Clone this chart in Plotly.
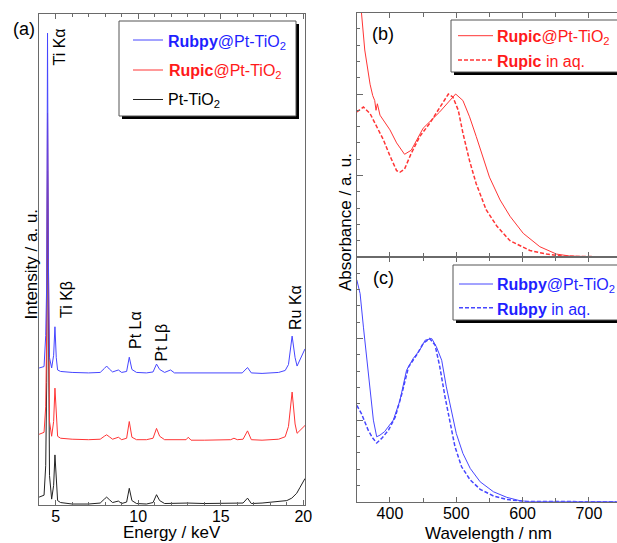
import plotly.graph_objects as go

W, H = 617, 543

# ---------------- data: panel (a) EDX spectra (offset as displayed) ----------------
energy_blue = [4.00, 4.30, 4.40, 4.46, 4.51, 4.56, 4.63, 4.76, 4.88, 4.96, 5.04, 5.12, 5.30, 6.00, 7.00,
               7.70, 7.95, 8.09, 8.25, 8.45, 8.80, 9.00, 9.30, 9.46, 9.62, 9.90, 10.50, 10.90, 11.11,
               11.30, 11.60, 11.96, 12.20, 13.00, 14.00, 15.00, 16.30, 16.62, 16.85, 17.50, 18.50,
               18.90, 19.10, 19.32, 19.50, 19.62, 19.80, 20.00, 20.10]
intensity_blue = [27.9, 28.2, 34.5, 45.0, 96.1, 50.0, 30.0, 27.9, 30.5, 36.3, 30.0, 27.5, 27.2, 27.0, 26.9,
                  27.0, 27.8, 28.3, 27.7, 27.1, 27.5, 27.0, 27.2, 30.1, 27.6, 27.0, 26.9, 27.1, 28.7,
                  27.6, 27.0, 27.5, 26.9, 26.9, 26.8, 26.8, 26.9, 28.0, 26.9, 26.8, 27.0,
                  27.4, 28.6, 34.4, 30.0, 28.3, 29.6, 31.4, 31.8]

energy_red = [4.00, 4.30, 4.40, 4.46, 4.51, 4.56, 4.63, 4.76, 4.88, 4.96, 5.04, 5.12, 5.30, 6.00, 7.00,
              7.70, 7.95, 8.09, 8.25, 8.45, 8.80, 9.00, 9.30, 9.46, 9.62, 9.90, 10.50, 10.90, 11.11,
              11.30, 11.60, 12.90, 13.03, 13.20, 14.00, 15.60, 15.80, 16.00, 16.35, 16.62, 16.85,
              17.50, 18.50, 18.90, 19.10, 19.32, 19.50, 19.62, 19.80, 20.00, 20.10]
intensity_red = [14.4, 14.8, 20.0, 35.0, 79.8, 40.0, 17.0, 14.0, 17.0, 23.8, 17.0, 14.0, 13.6, 13.4, 13.3,
                 13.4, 14.0, 14.3, 13.9, 13.4, 13.8, 13.3, 13.6, 17.0, 13.8, 13.3, 13.3, 13.6, 15.6,
                 14.0, 13.3, 13.3, 13.8, 13.2, 13.2, 13.3, 13.6, 13.3, 13.4, 15.1, 13.3,
                 13.2, 13.4, 13.9, 16.0, 23.0, 16.5, 14.6, 15.2, 15.9, 16.2]

energy_black = [4.00, 4.30, 4.40, 4.46, 4.51, 4.56, 4.63, 4.76, 4.88, 4.96, 5.04, 5.12, 5.30, 6.00, 7.00,
                7.70, 7.95, 8.09, 8.25, 8.45, 8.80, 9.00, 9.30, 9.46, 9.62, 9.90, 10.50, 10.90, 11.11,
                11.30, 11.60, 13.00, 14.00, 16.35, 16.62, 16.85, 17.50, 18.50, 19.00, 19.30, 19.60,
                19.80, 20.00, 20.10]
intensity_black = [1.6, 2.0, 8.0, 25.0, 68.0, 30.0, 6.0, 1.2, 4.0, 10.2, 4.0, 0.9, 0.5, 0.2, 0.2,
                   0.4, 1.2, 1.6, 1.1, 0.5, 0.8, 0.3, 0.6, 3.4, 0.9, 0.3, 0.2, 0.5, 2.1,
                   0.9, 0.3, 0.4, 0.3, 0.4, 1.4, 0.3, 0.4, 0.8, 0.9, 1.4, 2.4,
                   3.6, 4.9, 5.4]

# ---------------- data: panel (b) Rupic absorbance ----------------
wl_rupic_tio2 = [350, 355, 357, 362, 370, 374, 377, 379, 381, 385, 400, 410, 422, 432, 450, 475, 490,
                 499, 510, 520, 530, 540, 550, 566, 581, 601, 626, 651, 671, 700, 742]
abs_rupic_tio2 = [1.95, 1.62, 1.50, 1.27, 1.06, 0.99, 0.96, 0.90, 0.94, 0.87, 0.78, 0.70, 0.63, 0.655,
                  0.79, 0.89, 0.96, 1.00, 0.96, 0.86, 0.74, 0.61, 0.49, 0.35, 0.25, 0.145, 0.063,
                  0.018, 0.006, 0.002, 0.0]

wl_rupic_aq = [350, 360, 370, 380, 390, 400, 410, 415, 422, 432, 445, 460, 475, 488, 495, 503, 510,
               520, 530, 545, 561, 581, 611, 636, 661, 700, 742]
abs_rupic_aq = [0.89, 0.92, 0.88, 0.80, 0.72, 0.62, 0.53, 0.52, 0.54, 0.635, 0.74, 0.82, 0.92, 1.00,
                0.98, 0.90, 0.76, 0.59, 0.45, 0.29, 0.19, 0.10, 0.04, 0.018, 0.005, 0.002, 0.0]

# ---------------- data: panel (c) Rubpy absorbance ----------------
wl_rubpy_tio2 = [350, 355, 360, 365, 370, 375, 380, 385, 392, 405, 415, 425, 435, 445, 453, 463, 470,
                 478, 485, 493, 500, 510, 521, 536, 556, 576, 596, 611, 700, 742]
abs_rubpy_tio2 = [1.36, 1.275, 1.07, 0.867, 0.663, 0.50, 0.398, 0.408, 0.43, 0.50, 0.62, 0.806, 0.878,
                  0.93, 0.99, 1.00, 0.95, 0.867, 0.704, 0.561, 0.418, 0.296, 0.204, 0.122, 0.061,
                  0.027, 0.006, 0.0, 0.0, 0.0]

wl_rubpy_aq = [350, 357, 362, 367, 374, 380, 388, 398, 408, 418, 428, 440, 450, 460, 468, 475, 483,
               491, 498, 508, 521, 536, 556, 576, 601, 700, 742]
abs_rubpy_aq = [0.59, 0.54, 0.49, 0.44, 0.39, 0.36, 0.39, 0.44, 0.52, 0.663, 0.826, 0.898, 0.97, 1.00,
                0.96, 0.83, 0.643, 0.48, 0.337, 0.214, 0.133, 0.076, 0.035, 0.014, 0.002, 0.0, 0.0]

# ---------------- styling ----------------
FONT = "Liberation Sans, Arial, sans-serif"
BLUE_LINE = "#4646ff"
BLUE_TEXT = "#1f1fff"
RED_LINE = "#ff3535"
RED_TEXT = "#ff1a1a"
BLACK_LINE = "#222222"
AXIS_COL = "#6a6a6a"


def px(x):
    return x / W


def py(y):
    return 1 - y / H


fig = go.Figure()

fig.add_trace(go.Scatter(x=energy_black, y=intensity_black, mode="lines",
                         line=dict(color=BLACK_LINE, width=1), xaxis="x", yaxis="y", showlegend=False))
fig.add_trace(go.Scatter(x=energy_red, y=intensity_red, mode="lines",
                         line=dict(color=RED_LINE, width=1), xaxis="x", yaxis="y", showlegend=False))
fig.add_trace(go.Scatter(x=energy_blue, y=intensity_blue, mode="lines",
                         line=dict(color=BLUE_LINE, width=1), xaxis="x", yaxis="y", showlegend=False))

fig.add_trace(go.Scatter(x=wl_rupic_tio2, y=abs_rupic_tio2, mode="lines",
                         line=dict(color=RED_LINE, width=1), xaxis="x2", yaxis="y2", showlegend=False))
fig.add_trace(go.Scatter(x=wl_rupic_aq, y=abs_rupic_aq, mode="lines",
                         line=dict(color=RED_LINE, width=1.5, dash="4px,2px"), xaxis="x2", yaxis="y2",
                         showlegend=False))

fig.add_trace(go.Scatter(x=wl_rubpy_tio2, y=abs_rubpy_tio2, mode="lines",
                         line=dict(color=BLUE_LINE, width=1), xaxis="x3", yaxis="y3", showlegend=False))
fig.add_trace(go.Scatter(x=wl_rubpy_aq, y=abs_rubpy_aq, mode="lines",
                         line=dict(color=BLUE_LINE, width=1.5, dash="4px,2px"), xaxis="x3", yaxis="y3",
                         showlegend=False))

tickfont = dict(family=FONT, size=16, color="black")
common = dict(showgrid=False, zeroline=False, showline=True, linecolor=AXIS_COL, linewidth=1,
              ticks="inside", tickcolor=AXIS_COL, automargin=False, mirror="ticks")

fig.update_layout(
    width=W, height=H, margin=dict(l=0, r=0, t=0, b=0),
    paper_bgcolor="white", plot_bgcolor="white", autosize=False,
    font=dict(family=FONT, size=16, color="black"),
    xaxis=dict(domain=[px(39.1), px(305)], range=[4, 20.1], tick0=0, dtick=5, ticklen=5,
               tickfont=tickfont, ticklabelstandoff=-3,
               minor=dict(dtick=1, ticks="inside", ticklen=3, tickcolor=AXIS_COL),
               anchor="y", **common),
    yaxis=dict(domain=[py(505), py(14)], range=[0, 100], showticklabels=False,
               anchor="x", **{**common, "ticks": ""}),
    xaxis2=dict(domain=[px(356.8), 1.0], range=[350, 742.3], dtick=100, tick0=0, ticklen=5,
                showticklabels=False, minor=dict(dtick=50, ticks="inside", ticklen=4, tickcolor=AXIS_COL),
                anchor="y2", **common),
    yaxis2=dict(domain=[py(257), py(12.5)], range=[0, 1.5], dtick=0.5, tick0=0, ticklen=6,
                showticklabels=False, minor=dict(dtick=0.1, ticks="inside", ticklen=3, tickcolor=AXIS_COL),
                anchor="x2", **{**common, "mirror": False}),
    xaxis3=dict(domain=[px(356.8), 1.0], range=[350, 742.3], dtick=100, tick0=0, ticklen=5,
                tickfont=tickfont, ticklabelstandoff=-3,
                minor=dict(dtick=50, ticks="inside", ticklen=4, tickcolor=AXIS_COL),
                anchor="y3", **common),
    yaxis3=dict(domain=[py(501.7), py(257)], range=[0, 1.5], dtick=0.5, tick0=0, ticklen=6,
                showticklabels=False, minor=dict(dtick=0.1, ticks="inside", ticklen=3, tickcolor=AXIS_COL),
                anchor="x3", **{**common, "mirror": False}),
)

shapes = []
annotations = []


def legend_box(x0, y0, x1, y1):
    shapes.append(dict(type="rect", xref="paper", yref="paper", x0=px(x0 + 3), x1=px(x1 + 3),
                       y0=py(y1 + 3), y1=py(y0 + 3), fillcolor="black", line=dict(width=0)))
    shapes.append(dict(type="rect", xref="paper", yref="paper", x0=px(x0), x1=px(x1),
                       y0=py(y1), y1=py(y0), fillcolor="white", line=dict(color="#555555", width=1)))


def legend_line(x0, x1, y, color, dash="solid", width=1):
    shapes.append(dict(type="line", xref="paper", yref="paper", x0=px(x0), x1=px(x1),
                       y0=py(y), y1=py(y), line=dict(color=color, width=width, dash=dash)))


def text(x, y, s, size=16, color="black", angle=0, xanchor="center", yanchor="middle"):
    annotations.append(dict(x=px(x), y=py(y), xref="paper", yref="paper", text=s, showarrow=False,
                            textangle=angle, xanchor=xanchor, yanchor=yanchor,
                            font=dict(family=FONT, size=size, color=color)))


# legend (a)
legend_box(119, 21, 296, 116)
legend_line(133, 163, 40, BLUE_LINE)
legend_line(133, 163, 70, RED_LINE)
legend_line(133, 163, 99.5, BLACK_LINE)
text(166, 42, "<b>Rubpy</b>@Pt-TiO<sub>2</sub>", color=BLUE_TEXT, xanchor="left")
text(167, 71.5, "<b>Rupic</b>@Pt-TiO<sub>2</sub>", color=RED_TEXT, xanchor="left")
text(166, 100.5, "Pt-TiO<sub>2</sub>", color="black", xanchor="left")

# legend (b)
legend_box(451, 20, 620, 72)
legend_line(458, 493, 35.7, RED_LINE)
legend_line(458, 493, 60, RED_LINE, dash="4px,2px", width=1.5)
text(495, 37, "<b>Rupic</b>@Pt-TiO<sub>2</sub>", color=RED_TEXT, xanchor="left")
text(495, 61, "<b>Rupic</b> in aq.", color=RED_TEXT, xanchor="left")

# legend (c)
legend_box(453, 265, 620, 320)
legend_line(459, 493, 284, BLUE_LINE)
legend_line(459, 493, 307.7, BLUE_LINE, dash="4px,2px", width=1.5)
text(495, 285.5, "<b>Rubpy</b>@Pt-TiO<sub>2</sub>", color=BLUE_TEXT, xanchor="left")
text(495, 309, "<b>Rubpy</b> in aq.", color=BLUE_TEXT, xanchor="left")

# peak labels
text(59, 47.5, "Ti K\u03b1", angle=-90)
text(66, 300, "Ti K\u03b2", angle=-90)
text(135, 330, "Pt L\u03b1", angle=-90)
text(161, 342.5, "Pt L\u03b2", angle=-90)
text(295, 308, "Ru K\u03b1", angle=-90)

# panel labels
text(23.5, 29, "(a)", size=18)
text(383, 34, "(b)", size=18)
text(383, 278, "(c)", size=18)

# axis titles
text(30.5, 264, "Intensity / a. u.", size=17, angle=-90)
text(172, 532, "Energy / keV", size=17)
text(345, 222, "Absorbance / a. u.", size=17, angle=-90)
text(488, 533, "Wavelength / nm", size=17)

fig.update_layout(shapes=shapes, annotations=annotations)

fig.write_html("out.html", config={"displayModeBar": False},
               post_script="document.body.style.margin='0';document.body.style.padding='0';"
                           "document.body.style.overflow='hidden';")
